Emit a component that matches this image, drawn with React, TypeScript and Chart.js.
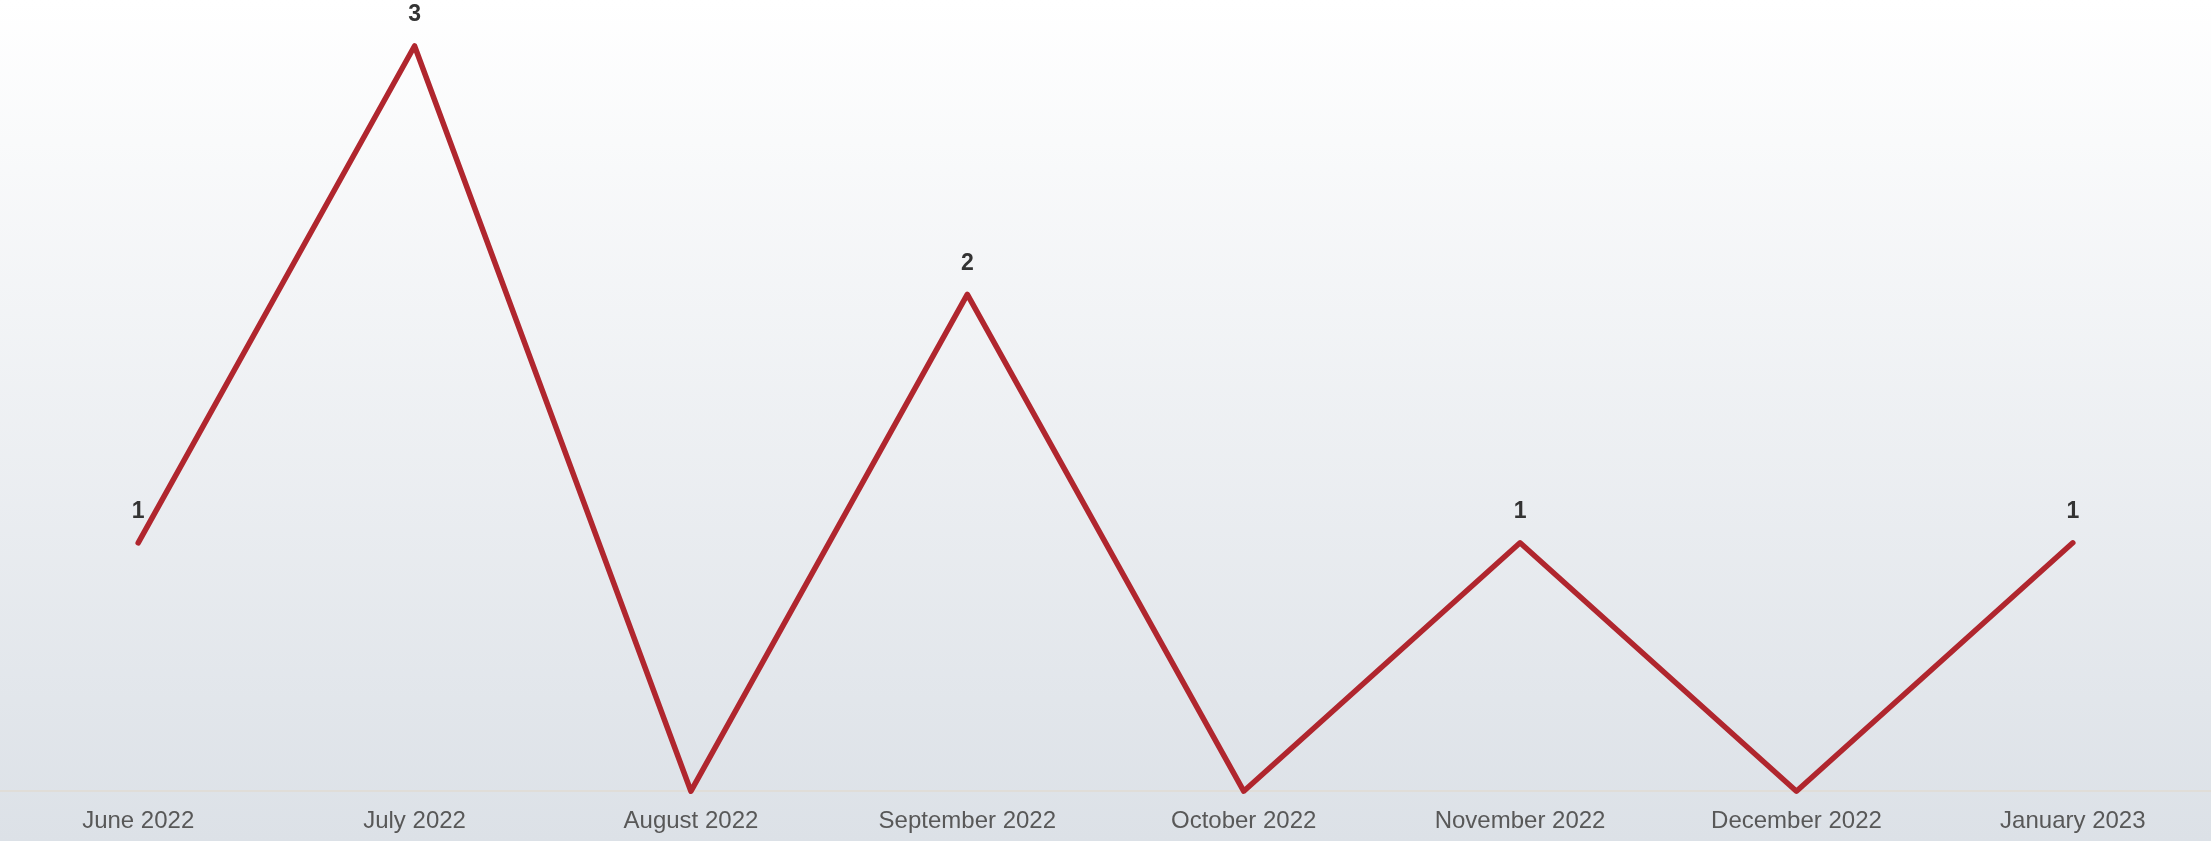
import React, { useEffect, useRef } from "react";
import { Chart, registerables } from "chart.js";

Chart.register(...registerables);

const categories = [
  "June 2022",
  "July 2022",
  "August 2022",
  "September 2022",
  "October 2022",
  "November 2022",
  "December 2022",
  "January 2023",
];
const counts = [1, 3, 0, 2, 0, 1, 0, 1];

const valueLabels = {
  id: "valueLabels",
  afterDatasetsDraw(chart: any) {
    const ctx = chart.ctx;
    const meta = chart.getDatasetMeta(0);
    const data = chart.data.datasets[0].data as number[];
    ctx.save();
    ctx.font = "bold 23px 'Liberation Sans', Arial, sans-serif";
    ctx.fillStyle = "#333333";
    ctx.textAlign = "center";
    ctx.textBaseline = "middle";
    meta.data.forEach((pt: any, i: number) => {
      if (data[i] > 0) ctx.fillText(String(data[i]), pt.x, pt.y - 31);
    });
    ctx.restore();
  },
};

export default function App() {
  const ref = useRef<HTMLCanvasElement | null>(null);
  useEffect(() => {
    document.body.style.margin = "0";
    const chart = new Chart(ref.current as HTMLCanvasElement, {
      type: "line",
      data: {
        labels: categories,
        datasets: [
          {
            data: counts,
            borderColor: "#b0262e",
            borderWidth: 5.5,
            pointRadius: 0,
            pointHoverRadius: 0,
            tension: 0,
            fill: false,
            borderCapStyle: "round",
            borderJoinStyle: "round",
            clip: false as any,
          },
        ],
      },
      options: {
        animation: false,
        responsive: true,
        maintainAspectRatio: false,
        layout: { padding: { top: 46, bottom: 5, left: 0, right: 0 } },
        plugins: { legend: { display: false }, tooltip: { enabled: false } },
        scales: {
          x: {
            offset: true,
            grid: { display: false, drawTicks: false },
            border: { display: true, color: "#e0ddd8", width: 2 },
            ticks: {
              padding: 16,
              color: "#585858",
              font: { family: "'Liberation Sans', Arial, sans-serif", size: 24 },
              maxRotation: 0,
              autoSkip: false,
            },
          },
          y: { display: false, min: 0, max: 3 },
        },
      },
      plugins: [valueLabels],
    });
    return () => chart.destroy();
  }, []);
  return (
    <div
      style={{
        position: "absolute",
        left: 0,
        top: 0,
        width: 2211,
        height: 841,
        overflow: "hidden",
        background: "linear-gradient(to bottom, #ffffff 0%, #dce1e7 100%)",
      }}
    >
      <div style={{ position: "relative", width: 2211, height: 857 }}>
        <canvas ref={ref} />
      </div>
    </div>
  );
}
